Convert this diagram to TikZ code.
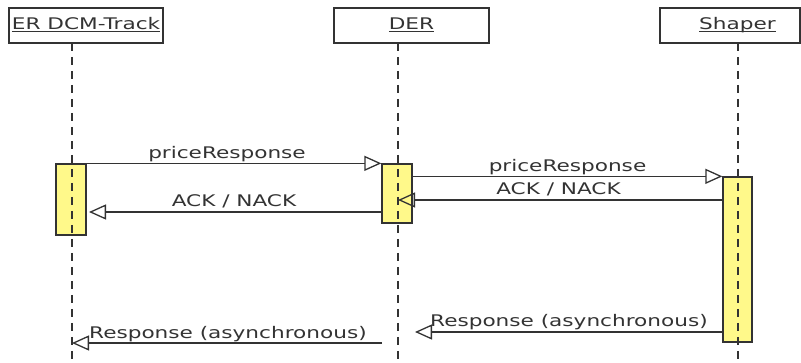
\documentclass[tikz,border=0pt]{standalone}
\usepackage{fontspec}
\setmainfont[FakeStretch=1.35]{DejaVu Sans}
\usetikzlibrary{arrows.meta}
\definecolor{ink}{HTML}{333333}
\definecolor{actfill}{HTML}{FFF98A}
% underline placed just below the baseline, through descenders
\newcommand{\uline}[1]{\setbox0\hbox{#1}\rlap{\rule[-2pt]{\wd0}{0.8pt}}\box0}
\tikzset{
  head/.style={draw=ink, line width=1.3pt, rectangle, inner sep=0pt,
    minimum height=35pt, text height=12pt, text depth=4pt, text=ink},
  lifeline/.style={draw=ink, line width=1.5pt, dash pattern=on 8pt off 6pt},
  actbar/.style={draw=ink, fill=actfill, line width=1.3pt, rectangle, inner sep=0pt},
  msg/.style={draw=ink, line width=1.4pt,
    -{Triangle[open, length=17pt, width=15pt, line width=1.3pt]}},
  lbl/.style={text=ink, inner sep=0pt, anchor=base},
}
\begin{document}
\begin{tikzpicture}[x=1pt, y=-1pt, font=\fontsize{16}{18}\selectfont]
\useasboundingbox (0,0) rectangle (801,363);

% participant heads
\node[head, minimum width=154pt] (er) at (86,25.5) {\uline{ER DCM-Track}};
\node[head, minimum width=155pt] (der) at (411.5,25.5) {\uline{DER}};
\node[head, minimum width=140pt, text width=140pt, align=center] (shaper) at (730,25.5)
  {\hspace*{15pt}\uline{Shaper}};

% activation bars
\node[actbar, minimum width=30pt, minimum height=71pt] (act1) at (71,199.5) {};
\node[actbar, minimum width=30pt, minimum height=59pt] (act2) at (397,193.5) {};
\node[actbar, minimum width=29pt, minimum height=165pt] (act3) at (737.5,259.5) {};

% lifelines
\coordinate (erTop) at (72,43);      \coordinate (erBot) at (72,363);
\coordinate (derTop) at (398,43);    \coordinate (derBot) at (398,363);
\coordinate (shTop) at (738,43);     \coordinate (shBot) at (738,363);
\draw[lifeline] (erTop) -- (erBot);
\draw[lifeline] (derTop) -- (derBot);
\draw[lifeline] (shTop) -- (shBot);

% message levels and free ends
\coordinate (y212) at (0,212);
\coordinate (y200) at (0,200);
\coordinate (y332) at (0,332);
\coordinate (ackTip1) at (89,212);
\coordinate (ackTip2) at (398,200);
\coordinate (respTip2) at (415,332);
\coordinate (respFrom1) at (382,343);
\coordinate (respTip1) at (72,343);

% messages
\draw[msg] (act1.north east) -- (act2.north west);
\draw[msg] (act2.west |- y212) -- (ackTip1);
\draw[msg] (act2.east |- act3.north) -- (act3.north west);
\draw[msg] (act3.west |- y200) -- (ackTip2);
\draw[msg] (act3.west |- y332) -- (respTip2);
\draw[msg] (respFrom1) -- (respTip1);

% message labels
\node[lbl] (m1) at (227,158.5) {priceResponse};
\node[lbl] (m2) at (234,207) {ACK / NACK};
\node[lbl] (m3) at (567.5,171.5) {priceResponse};
\node[lbl] (m4) at (558.5,194.5) {ACK / NACK};
\node[lbl, anchor=base west] (m5) at (430,326.5) {Response (asynchronous)};
\node[lbl, anchor=base west] (m6) at (89,338.5) {Response (asynchronous)};
\end{tikzpicture}
\end{document}
